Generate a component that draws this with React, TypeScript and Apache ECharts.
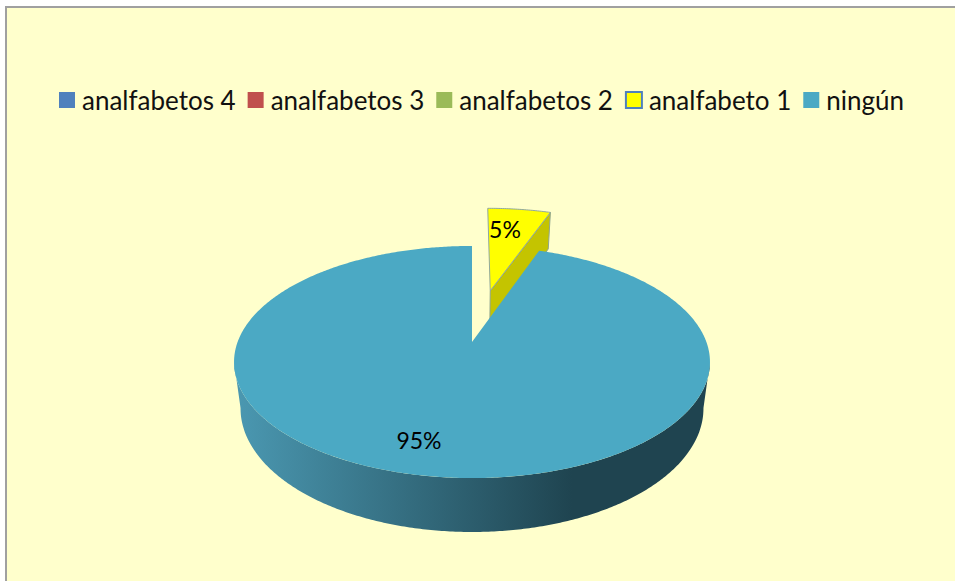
import React, { useEffect, useRef } from "react";
import * as echarts from "echarts";

const categories = ["analfabetos 4", "analfabetos 3", "analfabetos 2", "analfabeto 1", "ningún"];
const shares = [0, 0, 0, 5.4, 94.6];
const labelTexts = ["", "", "", "5%", "95%"];

const faceColors = ["#4F81BD", "#C0504D", "#9BBB59", "#FFFF00", "#4BA9C4"];
const explosion = [0, 0, 0, 0.5, 0];
const labelAnchors: Record<number, [number, number]> = { 3: [505, 229], 4: [419, 440] };

const FONT = "Lato, Carlito, sans-serif";
const apex = { x: 472, y: 342 };
const top = { rx: 234.4, ry: 112.6, p: 0.1724 };
const bottom = { rx: 228, ry: 120, p: 0.1724, dy: 45 };

type Plane = { rx: number; ry: number; p: number; dy?: number };
const project = (pl: Plane, u: number, v: number): number[] => {
  const w = 1 - pl.p * v;
  return [apex.x + (pl.rx * u) / w, apex.y + (pl.dy || 0) + (pl.ry * v) / w];
};
const rad = (share: number) => (share / 100) * Math.PI * 2;
const total = shares.reduce((a, b) => a + b, 0);

const rim = (pl: Plane, a0: number, a1: number, ox = 0, oy = 0): number[][] => {
  const pts: number[][] = [];
  const n = Math.max(2, Math.ceil(Math.abs(a1 - a0) / 0.01));
  for (let i = 0; i <= n; i++) {
    const a = a0 + ((a1 - a0) * i) / n;
    pts.push(project(pl, ox + Math.sin(a), oy - Math.cos(a)));
  }
  return pts;
};

// front part of a rim, from its rightmost point to its leftmost point
const frontRim = (pl: Plane, ox: number, oy: number): number[][] => {
  const pts = rim(pl, Math.PI * 0.3, Math.PI * 1.7, ox, oy);
  let iR = 0;
  let iL = 0;
  pts.forEach((p, i) => {
    if (p[0] > pts[iR][0]) iR = i;
    if (p[0] < pts[iL][0]) iL = i;
  });
  return pts.slice(iR, iL + 1);
};

const renderSlice = (index: number) => (_params: any, api: any) => {
  const value = api.value(0);
  if (!value) return { type: "group", children: [] };
  const before = shares.slice(0, index).reduce((a, b) => a + b, 0);
  const a0 = rad((before / total) * 100);
  const a1 = rad(((before + value) / total) * 100);
  const mid = (a0 + a1) / 2;
  const ox = explosion[index] * Math.sin(mid);
  const oy = -explosion[index] * Math.cos(mid);
  const children: any[] = [];

  if (a1 - a0 > Math.PI) {
    const band = frontRim(top, ox, oy).concat(frontRim(bottom, ox, oy).reverse());
    children.push({
      type: "polygon",
      shape: { points: band },
      style: {
        fill: new echarts.graphic.LinearGradient(240, 0, 572, 0, [
          { offset: 0, color: "#4A97B0" },
          { offset: 1, color: "#1F4450" },
        ], true),
      },
    });
  } else {
    const topTip = project(top, ox + Math.sin(a1), oy - Math.cos(a1));
    const topApex = project(top, ox, oy);
    const botTip = project(bottom, ox + Math.sin(a1), oy - Math.cos(a1));
    const botApex = project(bottom, ox, oy);
    children.push({
      type: "polygon",
      shape: { points: [topApex, topTip, botTip, botApex] },
      style: { fill: "#C4C400", stroke: "#8FA58F", lineWidth: 1 },
    });
  }

  const face = [project(top, ox, oy), ...rim(top, a0, a1, ox, oy)];
  children.push({
    type: "polygon",
    shape: { points: face },
    style: a1 - a0 > Math.PI
      ? { fill: faceColors[index] }
      : { fill: faceColors[index], stroke: "#8FA8A0", lineWidth: 1 },
  });

  const anchor = labelAnchors[index];
  if (anchor) {
    children.push({
      type: "text",
      x: anchor[0],
      y: anchor[1],
      style: {
        text: labelTexts[index],
        font: `23px ${FONT}`,
        fill: "#000",
        textAlign: "center",
        textVerticalAlign: "middle",
      },
    });
  }
  return { type: "group", children };
};

export default function App() {
  const ref = useRef<HTMLDivElement>(null);
  useEffect(() => {
    document.body.style.margin = "0";
    const chart = echarts.init(ref.current!, undefined, { renderer: "svg" });
    chart.setOption({
      animation: false,
      backgroundColor: "#FFFFFF",
      graphic: [
        {
          type: "rect",
          silent: true,
          shape: { x: 6, y: 7, width: 1000, height: 1000 },
          style: { fill: "#FFFFCC", stroke: "#A0A0A0", lineWidth: 2 },
        },
      ],
      legend: {
        left: 54,
        top: 82,
        icon: "rect",
        itemWidth: 16,
        itemHeight: 16,
        itemGap: 12,
        selectedMode: false,
        textStyle: { fontFamily: FONT, fontSize: 26, color: "#111", padding: [0, 0, 0, 2] },
        data: categories.map((name, i) =>
          i === 3
            ? { name, itemStyle: { color: faceColors[i], borderColor: "#4F81BD", borderWidth: 2 } }
            : { name, itemStyle: { color: faceColors[i], borderWidth: 0 } }
        ),
      },
      series: categories.map((name, i) => ({
        type: "custom",
        name,
        coordinateSystem: "none",
        itemStyle: { color: faceColors[i] },
        data: [[shares[i]]],
        renderItem: renderSlice(i),
      })),
    });
    return () => chart.dispose();
  }, []);
  return <div ref={ref} style={{ width: 955, height: 581 }} />;
}
